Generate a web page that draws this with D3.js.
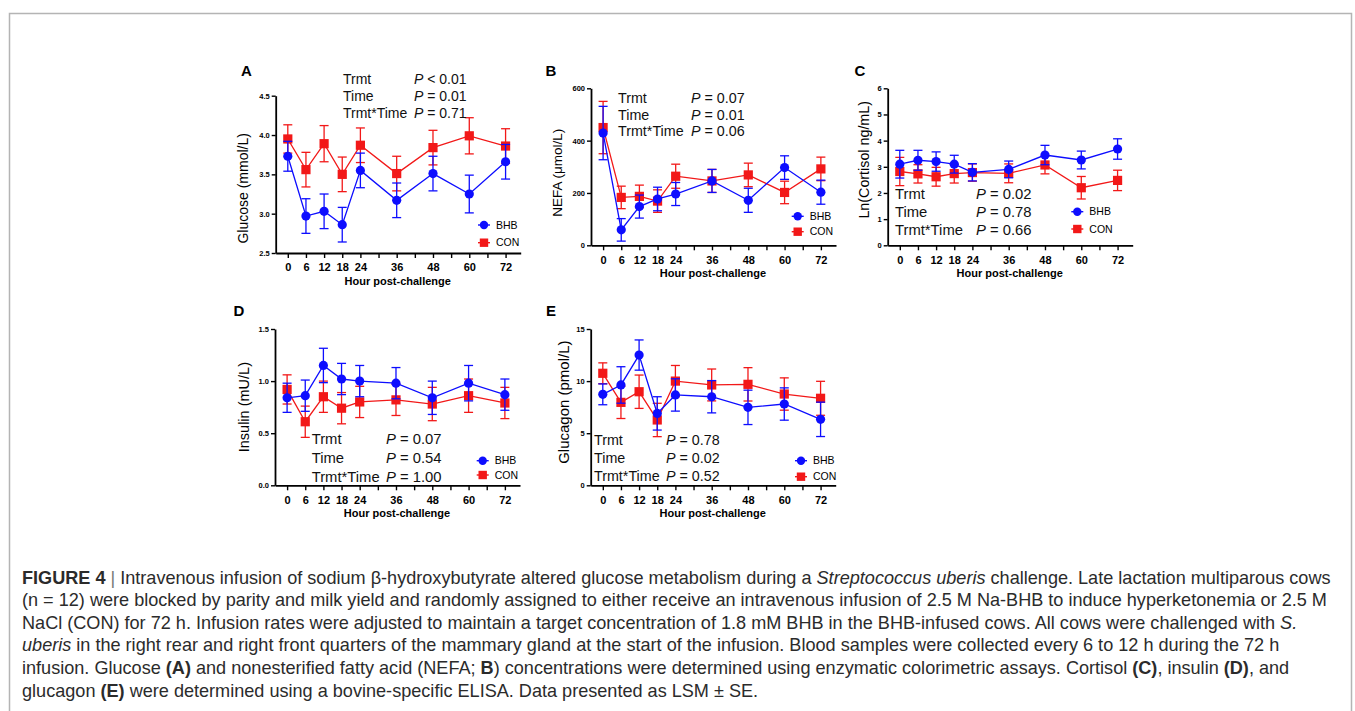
<!DOCTYPE html>
<meta charset="utf-8">
<script src="https://d3js.org/d3.v7.min.js"></script>
<style>
    body { margin: 0; background: #fff; }
    svg { display: block; font-family: "Liberation Sans", Arial, sans-serif; }
</style>

<body>
    <div id="my_dataviz"></div>
</body>
<script>

    // hours at which blood was sampled
    var hours = [0, 6, 12, 18, 24, 36, 48, 60, 72];
    var hourTicks = [0, 6, 12, 18, 24, 30, 36, 42, 48, 54, 60, 66, 72];
    var hourLabels = [0, 6, 12, 18, 24, 36, 48, 60, 72];

    // A - glucose (mmol/L)
    var glucoseBHB = [3.73, 2.97, 3.03, 2.86, 3.55, 3.17, 3.51, 3.25, 3.66];
    var glucoseBHBse = [0.19, 0.22, 0.22, 0.22, 0.22, 0.22, 0.22, 0.24, 0.22];
    var glucoseCON = [3.95, 3.56, 3.89, 3.50, 3.87, 3.51, 3.84, 3.99, 3.86];
    var glucoseCONse = [0.18, 0.22, 0.23, 0.22, 0.22, 0.22, 0.22, 0.23, 0.22];
    var glucoseTicks = [2.5, 3.0, 3.5, 4.0, 4.5];
    var glucoseStats = [["Trmt", "< 0.01"], ["Time", "= 0.01"], ["Trmt*Time", "= 0.71"]];

    // B - NEFA (umol/L)
    var nefaBHB = [429, 59, 148, 177, 196, 246, 172, 297, 203];
    var nefaBHBse = [102, 43, 44, 45, 44, 44, 46, 45, 46];
    var nefaCON = [450, 183, 187, 169, 264, 246, 269, 202, 292];
    var nefaCONse = [100, 43, 43, 43, 46, 44, 45, 43, 45];
    var nefaTicks = [0, 200, 400, 600];
    var nefaStats = [["Trmt", "= 0.07"], ["Time", "= 0.01"], ["Trmt*Time", "= 0.06"]];

    // C - Ln(cortisol)
    var cortisolBHB = [3.10, 3.25, 3.20, 3.10, 2.79, 2.90, 3.45, 3.26, 3.68];
    var cortisolBHBse = [0.53, 0.38, 0.37, 0.34, 0.33, 0.32, 0.37, 0.34, 0.39];
    var cortisolCON = [2.82, 2.73, 2.62, 2.74, 2.78, 2.75, 3.07, 2.20, 2.48];
    var cortisolCONse = [0.54, 0.35, 0.36, 0.36, 0.33, 0.36, 0.34, 0.43, 0.39];
    var cortisolTicks = [0, 1, 2, 3, 4, 5, 6];
    var cortisolStats = [["Trmt", "= 0.02"], ["Time", "= 0.78"], ["Trmt*Time", "= 0.66"]];

    // D - insulin (mU/L)
    var insulinBHB = [0.84, 0.86, 1.15, 1.02, 1.00, 0.98, 0.84, 0.98, 0.87];
    var insulinBHBse = [0.14, 0.15, 0.165, 0.15, 0.15, 0.15, 0.16, 0.17, 0.15];
    var insulinCON = [0.92, 0.61, 0.85, 0.74, 0.80, 0.82, 0.78, 0.86, 0.79];
    var insulinCONse = [0.14, 0.15, 0.15, 0.15, 0.15, 0.15, 0.16, 0.16, 0.15];
    var insulinTicks = [0.0, 0.5, 1.0, 1.5];
    var insulinStats = [["Trmt", "= 0.07"], ["Time", "= 0.54"], ["Trmt*Time", "= 1.00"]];

    // E - glucagon (pmol/L)
    var glucagonBHB = [8.73, 9.63, 12.5, 6.9, 8.67, 8.5, 7.48, 7.8, 6.33];
    var glucagonBHBse = [1.0, 1.75, 1.45, 1.6, 1.55, 1.55, 1.65, 1.55, 1.65];
    var glucagonCON = [10.75, 7.96, 8.98, 6.27, 10.0, 9.63, 9.69, 8.76, 8.35];
    var glucagonCONse = [1.0, 1.55, 1.6, 1.6, 1.5, 1.53, 1.6, 1.55, 1.63];
    var glucagonTicks = [0, 5, 10, 15];
    var glucagonStats = [["Trmt", "= 0.78"], ["Time", "= 0.02"], ["Trmt*Time", "= 0.52"]];

    var BLUE = "#0d0dff", RED = "#f21818";

    var width = 1355, height = 711;
    var svg = d3.select("#my_dataviz")
        .append("svg")
        .attr("width", width)
        .attr("height", height)

    // figure frame (no bottom edge in the crop)
    svg.append("path")
        .attr("d", "M9.5,720V13.5H1351.5V720")
        .attr("fill", "none")
        .attr("stroke", "#b4b4b4")
        .attr("stroke-width", 1.5)

    var panels = [
        { letter: "A", x: 275.7, y: 95.7, h: 157.3, dom: [2.5, 4.5], ticks: glucoseTicks, fmt: d3.format(".1f"),
          bhb: glucoseBHB, bhbSe: glucoseBHBse, con: glucoseCON, conSe: glucoseCONse,
          label: "Glucose (mmol/L)", labelX: 243.3, labelShift: 14, labelSize: 14,
          stats: glucoseStats, sx: 343, sy: 79, sdy: 17.2, px: 414, ssize: 14,
          lx: 484, ly: 225, ldy: 17.7, letterX: 241, letterY: 76 },
        { letter: "B", x: 591, y: 88.3, h: 157, dom: [0, 600], ticks: nefaTicks, fmt: d3.format("d"),
          bhb: nefaBHB, bhbSe: nefaBHBse, con: nefaCON, conSe: nefaCONse,
          label: "NEFA (\u03bcmol/L)", labelX: 557, labelShift: 6, labelSize: 13.5,
          stats: nefaStats, sx: 618, sy: 97.7, sdy: 16.7, px: 691, ssize: 14.3,
          lx: 797.7, ly: 216.3, ldy: 15.4, letterX: 545.5, letterY: 76 },
        { letter: "C", x: 887.7, y: 88.3, h: 157, dom: [0, 6], ticks: cortisolTicks, fmt: d3.format("d"),
          bhb: cortisolBHB, bhbSe: cortisolBHBse, con: cortisolCON, conSe: cortisolCONse,
          label: "Ln(Cortisol ng/mL)", labelX: 864, labelShift: -7, labelSize: 14.3,
          stats: cortisolStats, sx: 895, sy: 193.3, sdy: 18.4, px: 976, ssize: 14.8,
          lx: 1077.3, ly: 211.7, ldy: 17.3, letterX: 854.5, letterY: 76 },
        { letter: "D", x: 275, y: 329, h: 156.3, dom: [0, 1.5], ticks: insulinTicks, fmt: d3.format(".1f"),
          bhb: insulinBHB, bhbSe: insulinBHBse, con: insulinCON, conSe: insulinCONse,
          label: "Insulin (mU/L)", labelX: 244, labelShift: 0, labelSize: 14.5,
          stats: insulinStats, sx: 311.7, sy: 439, sdy: 18.8, px: 386, ssize: 14.8,
          lx: 482.7, ly: 460.7, ldy: 14.3, letterX: 233.5, letterY: 316 },
        { letter: "E", x: 590.7, y: 329, h: 156.3, dom: [0, 15], ticks: glucagonTicks, fmt: d3.format("d"),
          bhb: glucagonBHB, bhbSe: glucagonBHBse, con: glucagonCON, conSe: glucagonCONse,
          label: "Glucagon (pmol/L)", labelX: 563.3, labelShift: -5, labelSize: 15,
          stats: glucagonStats, sx: 594, sy: 440, sdy: 17.7, px: 666, ssize: 14.3,
          lx: 801, ly: 460.7, ldy: 16, letterX: 546, letterY: 316 }
    ];

    panels.forEach(drawPanel);

    function drawPanel(p) {
        var x = d3.scaleLinear().domain([-4, 77]).range([0, 245]);
        var y = d3.scaleLinear().domain(p.dom).range([p.h, 0]);
        var g = svg.append("g").attr("transform", "translate(" + p.x + "," + p.y + ")");

        // axes
        var xAxis = g.append("g")
            .attr("transform", "translate(0," + p.h + ")")
            .call(d3.axisBottom(x).tickValues(hourTicks).tickSize(5).tickSizeOuter(0)
                .tickFormat(function (d) { return hourLabels.indexOf(d) >= 0 ? d : ""; }));
        xAxis.selectAll("text")
            .attr("dy", "0.95em")
            .style("font-size", "11px").style("font-weight", "bold").style("font-family", "Liberation Sans, Arial");

        var yAxis = g.append("g")
            .call(d3.axisLeft(y).tickValues(p.ticks).tickFormat(p.fmt).tickSize(4).tickSizeOuter(0));
        yAxis.selectAll("text")
            .attr("x", -6)
            .style("font-size", "7.5px").style("font-weight", "bold").style("font-family", "Liberation Sans, Arial");

        g.selectAll(".domain").attr("stroke", "#000").attr("stroke-width", 1.8);
        g.selectAll(".tick line").attr("stroke", "#000").attr("stroke-width", 1.4);

        g.append("text")
            .attr("x", 122)
            .attr("y", p.h + 32)
            .attr("text-anchor", "middle")
            .style("font-size", "11px").style("font-weight", "bold")
            .text("Hour post-challenge");

        svg.append("text")
            .attr("transform", "translate(" + p.labelX + "," + (p.y + p.h / 2 + p.labelShift) + ") rotate(-90)")
            .attr("text-anchor", "middle")
            .attr("dy", "0.35em")
            .style("font-size", p.labelSize + "px")
            .text(p.label);

        svg.append("text")
            .attr("x", p.letterX).attr("y", p.letterY)
            .style("font-size", "15px").style("font-weight", "bold")
            .text(p.letter);

        // series: CON underneath, BHB on top
        drawSeries(g, x, y, p.con, p.conSe, RED, "square");
        drawSeries(g, x, y, p.bhb, p.bhbSe, BLUE, "circle");

        // statistics
        p.stats.forEach(function (s, i) {
            var t = svg.append("text")
                .attr("y", p.sy + i * p.sdy)
                .attr("dy", "0.36em")
                .style("font-size", p.ssize + "px")
                .attr("fill", "#111");
            t.append("tspan").attr("x", p.sx).text(s[0]);
            t.append("tspan").attr("x", p.px).style("font-style", "italic").text("P");
            t.append("tspan").text(" " + s[1]);
        });

        // legend
        [["BHB", BLUE, "circle"], ["CON", RED, "square"]].forEach(function (l, i) {
            var ly = p.ly + i * p.ldy;
            svg.append("line")
                .attr("x1", p.lx - 6).attr("x2", p.lx + 6)
                .attr("y1", ly).attr("y2", ly)
                .attr("stroke", l[1]).attr("stroke-width", 1.4);
            marker(svg, p.lx, ly, l[1], l[2], 4.2);
            svg.append("text")
                .attr("x", p.lx + 12).attr("y", ly)
                .attr("dy", "0.36em")
                .style("font-size", "10.5px")
                .text(l[0]);
        });
    }

    function drawSeries(g, x, y, vals, se, color, shape) {
        var pts = hours.map(function (h, i) { return { h: h, v: vals[i], e: se[i] }; });

        g.append("path")
            .datum(pts)
            .attr("fill", "none")
            .attr("stroke", color)
            .attr("stroke-width", 1.3)
            .attr("d", d3.line().x(function (d) { return x(d.h) }).y(function (d) { return y(d.v) }));

        var bars = g.append("g").attr("stroke", color).attr("stroke-width", 1.3);
        pts.forEach(function (d) {
            var cx = x(d.h), top = y(d.v + d.e), bot = y(d.v - d.e);
            bars.append("line").attr("x1", cx).attr("x2", cx).attr("y1", top).attr("y2", bot);
            bars.append("line").attr("x1", cx - 4.5).attr("x2", cx + 4.5).attr("y1", top).attr("y2", top);
            bars.append("line").attr("x1", cx - 4.5).attr("x2", cx + 4.5).attr("y1", bot).attr("y2", bot);
        });

        pts.forEach(function (d) {
            marker(g, x(d.h), y(d.v), color, shape, 4.6);
        });
    }

    function marker(sel, cx, cy, color, shape, r) {
        if (shape == "circle") {
            sel.append("circle").attr("cx", cx).attr("cy", cy).attr("r", r).attr("fill", color);
        } else {
            sel.append("rect").attr("x", cx - r).attr("y", cy - r)
                .attr("width", 2 * r).attr("height", 2 * r).attr("fill", color);
        }
    }

    // caption
    var captionLines = [
        [["FIGURE 4", "b"], [" ", ""], ["|", "sep"], [" Intravenous infusion of sodium \u03b2-hydroxybutyrate altered glucose metabolism during a ", ""], ["Streptococcus uberis", "i"], [" challenge. Late lactation multiparous cows", ""]],
        [["(n = 12) were blocked by parity and milk yield and randomly assigned to either receive an intravenous infusion of 2.5 M Na-BHB to induce hyperketonemia or 2.5 M", ""]],
        [["NaCl (CON) for 72 h. Infusion rates were adjusted to maintain a target concentration of 1.8 mM BHB in the BHB-infused cows. All cows were challenged with ", ""], ["S.", "i"]],
        [["uberis", "i"], [" in the right rear and right front quarters of the mammary gland at the start of the infusion. Blood samples were collected every 6 to 12 h during the 72 h", ""]],
        [["infusion. Glucose ", ""], ["(A)", "b"], [" and nonesterified fatty acid (NEFA; ", ""], ["B", "b"], [") concentrations were determined using enzymatic colorimetric assays. Cortisol ", ""], ["(C)", "b"], [", insulin ", ""], ["(D)", "b"], [", and", ""]],
        [["glucagon ", ""], ["(E)", "b"], [" were determined using a bovine-specific ELISA. Data presented as LSM \u00b1 SE.", ""]]
    ];

    captionLines.forEach(function (line, i) {
        var t = svg.append("text")
            .attr("x", 22)
            .attr("y", 577 + i * 22.6)
            .attr("dy", "0.36em")
            .attr("fill", "#2b2b2b")
            .style("font-size", "18.1px");
        line.forEach(function (seg) {
            var s = t.append("tspan").text(seg[0]);
            if (seg[1] == "b") s.style("font-weight", "bold");
            if (seg[1] == "i") s.style("font-style", "italic");
            if (seg[1] == "sep") s.attr("fill", "#777");
        });
    });
</script>
